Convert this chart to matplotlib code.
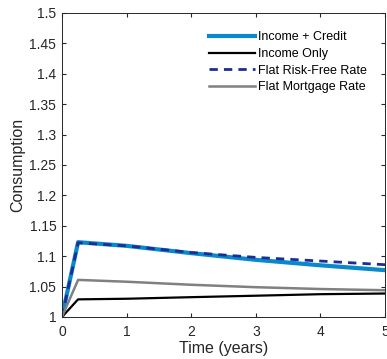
import matplotlib
matplotlib.use("Agg")
import matplotlib.pyplot as plt

plt.rcParams['font.family'] = ['Liberation Sans', 'DejaVu Sans']

t = [0, 0.25, 1, 2, 3, 4, 5]
income_credit = [1.0, 1.123, 1.117, 1.105, 1.094, 1.085, 1.077]
income_only = [1.0, 1.029, 1.030, 1.0326, 1.035, 1.0375, 1.0386]
flat_rf = [1.0, 1.122, 1.117, 1.106, 1.098, 1.092, 1.086]
flat_mort = [1.0, 1.061, 1.058, 1.053, 1.049, 1.046, 1.044]

yticks = [1, 1.05, 1.1, 1.15, 1.2, 1.25, 1.3, 1.35, 1.4, 1.45, 1.5]
yticklabels = ['1', '1.05', '1.1', '1.15', '1.2', '1.25', '1.3', '1.35', '1.4', '1.45', '1.5']

fig = plt.figure(figsize=(3.87, 3.59), dpi=100)
ax = fig.add_axes([0.160, 0.117, 0.835, 0.847])

ax.plot(t, income_credit, color='#0a88cc', lw=3.0, label='Income + Credit')
ax.plot(t, income_only, color='black', lw=1.6, label='Income Only')
ax.plot(t, flat_rf, color='#1c2e96', lw=2.0, ls=(0, (3, 2.2)), label='Flat Risk-Free Rate')
ax.plot(t, flat_mort, color='#808080', lw=1.8, label='Flat Mortgage Rate')

ax.set_xlim(0, 5)
ax.set_ylim(1, 1.5)
ax.set_yticks(yticks)
ax.set_yticklabels(yticklabels)
ax.set_xticks([0, 1, 2, 3, 4, 5])
ax.tick_params(direction='in', top=True, right=True, labelsize=10, length=3,
               color='#262626', labelcolor='#262626')
ax.tick_params(axis='x', pad=6)
ax.tick_params(axis='y', pad=4)
for s in ax.spines.values():
    s.set_color('#262626')
    s.set_linewidth(0.7)

ax.set_xlabel('Time (years)', fontsize=11.5, color='#262626', labelpad=1.5)
ax.set_ylabel('Consumption', fontsize=11.5, color='#262626', labelpad=3)

ax.legend(loc='upper right', bbox_to_anchor=(0.945, 0.94), frameon=False, fontsize=9,
          handlelength=3.7, handletextpad=0.25, labelspacing=0.38, borderpad=0,
          borderaxespad=0)

fig.savefig('out.png', dpi=100)
